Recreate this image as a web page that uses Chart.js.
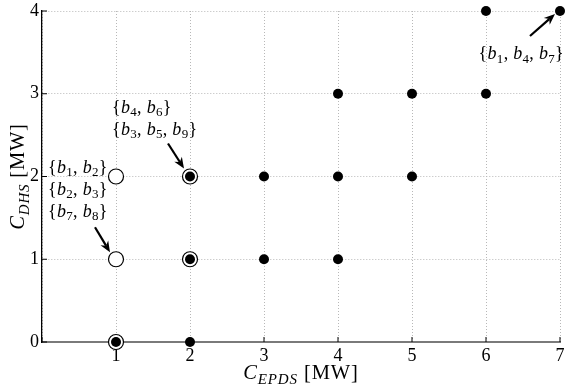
<!DOCTYPE html>
<html><head><meta charset="utf-8">
<script src="https://cdn.jsdelivr.net/npm/chart.js@4.4.0/dist/chart.umd.min.js"></script>
<style>html,body{margin:0;padding:0;background:#fff}#wrap{width:565px;height:388px}</style>
</head><body><div id="wrap"><canvas id="c" width="565" height="388"></canvas></div>
<script>
// ---- data ----
const xTicks = [0, 1, 2, 3, 4, 5, 6, 7];
const yTicks = [0, 1, 2, 3, 4];
const filledX = [2, 3, 3, 4, 4, 4, 5, 5, 6, 6, 7];
const filledY = [0, 1, 2, 1, 2, 3, 2, 3, 3, 4, 4];
const ringX = [1, 2, 2];
const ringY = [0, 1, 2];
const openX = [1, 1];
const openY = [1, 2];
const xTitle = 'C_{EPDS} [MW]';
const yTitle = 'C_{DHS} [MW]';
const labelGroupA = ['{b_1, b_2}', '{b_2, b_3}', '{b_7, b_8}'];
const labelGroupB = ['{b_4, b_6}', '{b_3, b_5, b_9}'];
const labelGroupC = ['{b_1, b_4, b_7}'];

// ---- layout of annotations (pixel offsets relative to anchor data point) ----
const FONT = 'Liberation Serif';
const annotations = [
  {px: 1, py: 2, lines: labelGroupA, dx: -68, dy: -10, lineH: 22, align: 'left'},
  {px: 2, py: 2, lines: labelGroupB, dx: -78, dy: -70, lineH: 22, align: 'left'},
  {px: 7, py: 4, lines: labelGroupC, dx: 4, dy: 42, lineH: 22, align: 'right'}
];
const arrows = [
  {px: 1, py: 1, sx: -21, sy: -32, ex: -6, ey: -7},
  {px: 2, py: 2, sx: -22, sy: -33, ex: -6, ey: -8},
  {px: 7, py: 4, sx: -30, sy: 25, ex: -5, ey: 3}
];

function parseRich(s) {
  const out = []; let i = 0; let bracket = false;
  while (i < s.length) {
    const c = s[i];
    if (c === '_') {
      i++; let sub = '';
      if (s[i] === '{') { i++; while (i < s.length && s[i] !== '}') { sub += s[i]; i++; } i++; }
      else { sub = s[i]; i++; }
      out.push({t: sub, sub: true, it: /[A-Za-z]/.test(sub) && !bracket});
    } else {
      if (c === '[') bracket = true;
      out.push({t: c, sub: false, it: /[A-Za-z]/.test(c) && !bracket});
      if (c === ']') bracket = false;
      i++;
    }
  }
  return out;
}
function segFont(seg, F) {
  const size = seg.sub ? Math.round(F * 0.72) : F;
  return (seg.it ? 'italic ' : '') + size + 'px "' + FONT + '"';
}
function richWidth(ctx, segs, F, ls) {
  let w = 0;
  for (const s of segs) { ctx.font = segFont(s, F); w += ctx.measureText(s.t).width + (ls || 0) * s.t.length; }
  return w;
}
function drawRich(ctx, str, x, y, F, align, ls) {
  ls = ls || 0;
  const segs = parseRich(str);
  const w = richWidth(ctx, segs, F, ls);
  let cx = align === 'center' ? x - w / 2 : (align === 'right' ? x - w : x);
  ctx.textAlign = 'left'; ctx.textBaseline = 'alphabetic'; ctx.fillStyle = '#000';
  for (const s of segs) {
    ctx.font = segFont(s, F);
    for (const ch of s.t) {
      ctx.fillText(ch, cx, y + (s.sub ? F * 0.22 : 0));
      cx += ctx.measureText(ch).width + ls;
    }
  }
}
function drawArrow(ctx, x1, y1, x2, y2) {
  const ang = Math.atan2(y2 - y1, x2 - x1);
  const L = 11, W = 4.5;
  ctx.save();
  ctx.strokeStyle = '#000'; ctx.fillStyle = '#000'; ctx.lineWidth = 2.2;
  ctx.beginPath(); ctx.moveTo(x1, y1);
  ctx.lineTo(x2 - Math.cos(ang) * L * 0.7, y2 - Math.sin(ang) * L * 0.7); ctx.stroke();
  ctx.beginPath();
  ctx.moveTo(x2, y2);
  ctx.lineTo(x2 - Math.cos(ang) * L + Math.sin(ang) * W, y2 - Math.sin(ang) * L - Math.cos(ang) * W);
  ctx.lineTo(x2 - Math.cos(ang) * L * 0.7, y2 - Math.sin(ang) * L * 0.7);
  ctx.lineTo(x2 - Math.cos(ang) * L - Math.sin(ang) * W, y2 - Math.sin(ang) * L + Math.cos(ang) * W);
  ctx.closePath(); ctx.fill();
  ctx.restore();
}

const overlay = {
  id: 'overlay',
  afterDraw(chart) {
    const ctx = chart.ctx; const xs = chart.scales.x; const ys = chart.scales.y;
    const a = chart.chartArea;
    ctx.save();
    // inward tick marks
    ctx.strokeStyle = '#000'; ctx.lineWidth = 1;
    for (const v of xTicks) {
      const p = xs.getPixelForValue(v);
      ctx.beginPath(); ctx.moveTo(p, a.bottom); ctx.lineTo(p, a.bottom - 5); ctx.stroke();
    }
    for (const v of yTicks) {
      const p = ys.getPixelForValue(v);
      ctx.beginPath(); ctx.moveTo(a.left, p); ctx.lineTo(a.left + 5, p); ctx.stroke();
    }
    // annotations
    for (const an of annotations) {
      const bx = xs.getPixelForValue(an.px) + an.dx;
      const by = ys.getPixelForValue(an.py) + an.dy;
      an.lines.forEach((ln, i) => drawRich(ctx, ln, bx, by + i * an.lineH + 6, 18, an.align, 0.3));
    }
    for (const ar of arrows) {
      const bx = xs.getPixelForValue(ar.px), by = ys.getPixelForValue(ar.py);
      drawArrow(ctx, bx + ar.sx, by + ar.sy, bx + ar.ex, by + ar.ey);
    }
    // axis titles
    drawRich(ctx, xTitle, 301, 379, 20.5, 'center', 0.9);
    ctx.save();
    ctx.translate(24, (a.top + a.bottom) / 2);
    ctx.rotate(-Math.PI / 2);
    drawRich(ctx, yTitle, 0, 0, 20.5, 'center', 0.8);
    ctx.restore();
    ctx.restore();
  }
};

const toPts = (xs, ys) => xs.map((x, i) => ({x, y: ys[i]}));
const tickFont = {family: FONT, size: 18};

new Chart(document.getElementById('c'), {
  type: 'scatter',
  data: {datasets: [
    {label: 'filled', data: toPts(filledX, filledY), pointRadius: 5, backgroundColor: '#000', borderColor: '#000', borderWidth: 0, order: 1, clip: false},
    {label: 'ringDot', data: toPts(ringX, ringY), pointRadius: 5, backgroundColor: '#000', borderColor: '#000', borderWidth: 0, order: 1, clip: false},
    {label: 'ring', data: toPts(ringX, ringY), pointRadius: 7.5, backgroundColor: '#fff', borderColor: '#000', borderWidth: 1.2, order: 2, clip: false},
    {label: 'open', data: toPts(openX, openY), pointRadius: 7.5, backgroundColor: '#fff', borderColor: '#000', borderWidth: 1.2, order: 2, clip: false}
  ]},
  options: {
    responsive: false, animation: false, devicePixelRatio: 1, events: [],
    plugins: {legend: {display: false}, tooltip: {enabled: false}},
    layout: {autoPadding: false, padding: {top: 11, right: 5, left: 0, bottom: 0}},
    scales: {
      x: {
        type: 'linear', min: 0, max: 7,
        afterFit(s) { s.height = 46; s.paddingRight = 0; s.paddingLeft = 0; },
        afterBuildTicks(s) { s.ticks = xTicks.map(v => ({value: v})); },
        ticks: {callback: v => v === 0 ? '' : String(v), font: tickFont, color: '#000', padding: 3, maxRotation: 0, autoSkip: false},
        grid: {color: '#b8b8b8', lineWidth: 1, drawTicks: false},
        border: {display: true, color: '#7a7a7a', width: 2, dash: [1, 2]}
      },
      y: {
        type: 'linear', min: 0, max: 4,
        afterFit(s) { s.width = 42; s.paddingTop = 0; s.paddingBottom = 0; },
        afterBuildTicks(s) { s.ticks = yTicks.map(v => ({value: v})); },
        ticks: {callback: v => String(v), font: tickFont, color: '#000', padding: 3, autoSkip: false},
        grid: {color: '#b8b8b8', lineWidth: 1, drawTicks: false},
        border: {display: true, color: '#000', width: 1.3, dash: [1, 2]}
      }
    }
  },
  plugins: [overlay]
});
</script></body></html>
